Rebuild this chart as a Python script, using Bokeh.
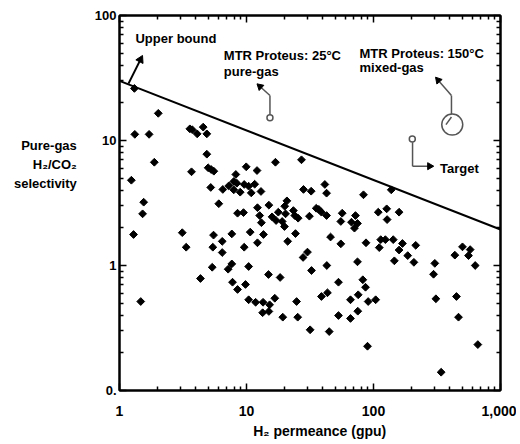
import numpy as np
from bokeh.plotting import figure
from bokeh.models import FixedTicker, LogAxis, Label, Range1d
from bokeh.embed import file_html
from bokeh.resources import INLINE

# H2 permeance (gpu) and pure-gas H2/CO2 selectivity of literature membranes
h2_perm = [1.31, 2.02, 1.32, 1.71, 3.58, 3.74, 4.09, 4.56, 4.87, 1.88,
           4.87, 4.99, 5.27, 5.53, 3.69, 1.24, 9.95, 8.24, 5.23, 6.51,
           7.26, 7.94, 8.39, 7.94, 8.92, 9.59, 10.4, 1.55, 1.52, 6.05,
           8.50, 9.47, 1.29, 3.12, 5.50, 7.66, 10.7, 3.35, 5.43, 6.44,
           6.44, 9.59, 5.37, 7.17, 7.66, 10.4, 4.34, 7.76, 8.50, 9.82,
           10.4, 1.47, 16.9, 27.1, 12.1, 11.6, 10.9, 13.0, 28.1, 32.3,
           41.4, 42.7, 83.4, 20.8, 20.0, 15.0, 12.2, 12.7, 17.8, 15.9,
           17.1, 19.1, 20.3, 23.4, 24.0, 25.5, 19.9, 35.4, 37.1, 38.9,
           42.7, 31.3, 56.7, 55.3, 72.1, 67.1, 74.8, 70.8, 13.1, 13.6,
           24.3, 12.2, 21.1, 45.9, 55.3, 87.3, 30.2, 27.9, 42.9, 74.8,
           32.5, 14.9, 18.4, 53.0, 82.4, 86.5, 11.8, 13.5, 16.7, 15.2,
           13.4, 15.0, 24.8, 38.9, 43.4, 65.9, 75.8, 90.8, 104, 19.3,
           25.3, 53.0, 65.9, 75.2, 31.7, 44.8, 89.7, 114, 124, 143,
           111, 169, 215, 159, 186, 146, 208, 304, 297, 310,
           341, 437, 502, 577, 560, 632, 450, 467, 663, 138,
           109, 127, 159, 128]
selectivity = [26.1, 16.5, 11.2, 11.2, 12.4, 12.2, 11.3, 12.8, 11.3, 6.70,
               7.77, 6.05, 5.86, 5.68, 5.62, 4.81, 6.16, 5.35, 4.21, 4.06,
               4.34, 4.70, 4.55, 4.03, 3.86, 4.45, 4.31, 3.21, 2.59, 3.12,
               2.62, 2.65, 1.77, 1.83, 1.75, 1.79, 1.85, 1.40, 1.40, 1.56,
               1.27, 1.40, 0.968, 0.934, 1.03, 0.982, 0.787, 0.735, 0.643, 0.705,
               0.532, 0.515, 6.70, 7.01, 5.75, 4.47, 3.81, 3.91, 4.06, 3.93,
               4.45, 3.79, 3.68, 3.29, 2.98, 3.04, 2.90, 2.51, 2.67, 2.45,
               2.29, 2.25, 2.59, 2.75, 2.51, 2.39, 2.05, 2.87, 2.81, 2.67,
               2.51, 2.48, 2.62, 2.25, 2.51, 2.22, 2.17, 1.99, 2.20, 1.77,
               1.80, 1.52, 1.56, 1.69, 1.49, 1.52, 1.28, 1.16, 1.00, 1.07,
               0.912, 0.847, 0.802, 0.735, 0.769, 0.670, 0.508, 0.508, 0.547, 0.485,
               0.419, 0.429, 0.515, 0.565, 0.605, 0.532, 0.583, 0.515, 0.532, 0.386,
               0.386, 0.398, 0.377, 0.431, 0.306, 0.296, 0.226, 1.61, 1.61, 1.61,
               1.39, 1.50, 1.45, 1.33, 1.20, 1.09, 1.06, 1.04, 0.851, 0.542,
               0.140, 1.21, 1.41, 1.34, 1.20, 1.00, 0.565, 0.386, 0.233, 4.03,
               2.67, 2.84, 2.67, 2.33]

# Upper bound line end points
ub_perm = [1, 1000]
ub_sel = [30.0, 1.94]

# MTR Proteus and target points
proteus25 = (15.3, 15.2)
proteus150 = (417, 13.4)
target = (202, 10.3)

x_ticks = [1, 10, 100, 1000]
x_labels = ["1", "10", "100", "1,000"]
y_ticks = [0.1, 1, 10, 100]
y_labels = ["0.", "1", "10", "100"]

FONT = "Liberation Sans"
GRAY = "#555555"
PX_X, PX_Y = 127.0, 125.0   # pixels per decade of the frame

x_minor = [m * d for d in (1, 10, 100) for m in range(2, 10)]
y_minor = [m * d for d in (0.1, 1, 10) for m in range(2, 10)]

p = figure(frame_width=381, frame_height=375,
           x_axis_type="log", y_axis_type="log",
           x_range=Range1d(1, 1000), y_range=Range1d(0.1, 100),
           min_border_left=119, min_border_top=15, min_border_right=16,
           min_border_bottom=52,
           output_backend="svg", toolbar_location=None)
p.xgrid.visible = False
p.ygrid.visible = False
p.outline_line_color = "black"
p.outline_line_width = 2
p.background_fill_color = "white"
p.border_fill_color = "white"

bottom_ax = p.xaxis[0]
left_ax = p.yaxis[0]


def style_axis(ax, ticks, minor, labels, fsize, standoff, show=True):
    ax.ticker = FixedTicker(ticks=ticks, minor_ticks=minor)
    if show:
        ax.major_label_overrides = {t: l for t, l in zip(ticks, labels)}
        ax.major_label_text_font_size = fsize
    else:
        ax.major_label_overrides = {t: "" for t in ticks}
        ax.major_label_text_font_size = "1px"
    ax.axis_line_color = "black"
    ax.axis_line_width = 2
    ax.major_tick_in = 7
    ax.major_tick_out = 0
    ax.minor_tick_in = 4
    ax.minor_tick_out = 0
    ax.major_tick_line_color = "black"
    ax.major_tick_line_width = 1.5
    ax.minor_tick_line_color = "black"
    ax.minor_tick_line_width = 1.5
    ax.major_label_text_font = FONT
    ax.major_label_text_font_style = "bold"
    ax.major_label_text_color = "black"
    ax.major_label_standoff = standoff


style_axis(bottom_ax, x_ticks, x_minor, x_labels, "14px", 15)
style_axis(left_ax, y_ticks, y_minor, y_labels, "13px", 3)

top_ax = LogAxis()
style_axis(top_ax, x_ticks, x_minor, x_labels, "14px", 0, show=False)
p.add_layout(top_ax, "above")
right_ax = LogAxis()
style_axis(right_ax, y_ticks, y_minor, y_labels, "13px", 0, show=False)
p.add_layout(right_ax, "right")

nb = "\u00a0"

# axis titles
bottom_ax.axis_label = nb * 5 + "H₂ permeance (gpu)"
bottom_ax.axis_label_text_font = FONT
bottom_ax.axis_label_text_font_style = "bold"
bottom_ax.axis_label_text_font_size = "14px"
bottom_ax.axis_label_text_color = "black"
bottom_ax.axis_label_standoff = 4

left_ax.axis_label = "Pure-gas\nH₂/CO₂\nselectivity\n" + "\n".join([nb] * 4)
left_ax.axis_label_orientation = "horizontal"
left_ax.axis_label_text_align = "center"
left_ax.axis_label_text_line_height = 1.27
left_ax.axis_label_text_font = FONT
left_ax.axis_label_text_font_style = "bold"
left_ax.axis_label_text_font_size = "13px"
left_ax.axis_label_text_color = "black"
left_ax.axis_label_standoff = 15

# data
p.scatter(h2_perm, selectivity, marker="square", angle=np.pi / 4,
          size=5.5, color="black")

# upper bound
p.line(ub_perm, ub_sel, line_color="black", line_width=2)


def lab(x, y, text, size="13px", align="left"):
    p.add_layout(Label(x=x, y=y, text=text, text_font=FONT,
                       text_font_style="bold", text_font_size=size,
                       text_color="black", text_baseline="middle",
                       text_align=align))


def arrow(x0, y0, x1, y1, line_color, width=1.5, size=7):
    # screen direction of the arrow from the log-space difference
    dx = (np.log10(x1) - np.log10(x0)) * PX_X
    dy = (np.log10(y1) - np.log10(y0)) * PX_Y
    th = np.arctan2(dy, dx)
    back = 0.577 * size
    cx = x1 * 10 ** (-back * np.cos(th) / PX_X)
    cy = y1 * 10 ** (-back * np.sin(th) / PX_Y)
    p.segment(x0=[x0], y0=[y0], x1=[cx], y1=[cy],
              line_color=line_color, line_width=width)
    p.scatter([cx], [cy], marker="triangle", size=size,
              angle=th - np.pi / 2, color="black")


lab(1.336, 65.5, "Upper bound")
arrow(1.177, 28.5, 1.518, 47.9, "black", width=2, size=8)

# MTR Proteus 25C
lab(6.63, 47.9, "MTR Proteus: 25°C")
lab(6.63, 35.6, "pure-gas")
p.segment(x0=[15.3], y0=[16.1], x1=[15.3], y1=[22.9],
          line_color=GRAY, line_width=1.5)
arrow(15.3, 22.9, 12.1, 28.4, GRAY)
p.scatter([proteus25[0]], [proteus25[1]], marker="circle", size=6,
          fill_color="white", line_color=GRAY, line_width=1.5)

# MTR Proteus 150C
lab(77.6, 49.7, "MTR Proteus: 150°C")
lab(77.6, 38.4, "mixed-gas")
p.scatter([proteus150[0]], [proteus150[1]], marker="circle", size=21,
          fill_color=None, line_color=GRAY, line_width=1.5)
p.segment(x0=[372, 411], y0=[13.4, 16.3], x1=[411, 411], y1=[15.4, 22.9],
          line_color=GRAY, line_width=1.5)
arrow(411, 22.9, 308, 32.1, GRAY)

# Target
p.segment(x0=[203], y0=[9.7], x1=[203], y1=[6.23],
          line_color=GRAY, line_width=1.5)
arrow(203, 6.23, 298, 6.23, GRAY)
p.scatter([target[0]], [target[1]], marker="circle", size=6,
          fill_color="white", line_color=GRAY, line_width=1.5)
lab(334, 5.94, "Target")

open("out.html", "w").write(file_html(p, INLINE))
